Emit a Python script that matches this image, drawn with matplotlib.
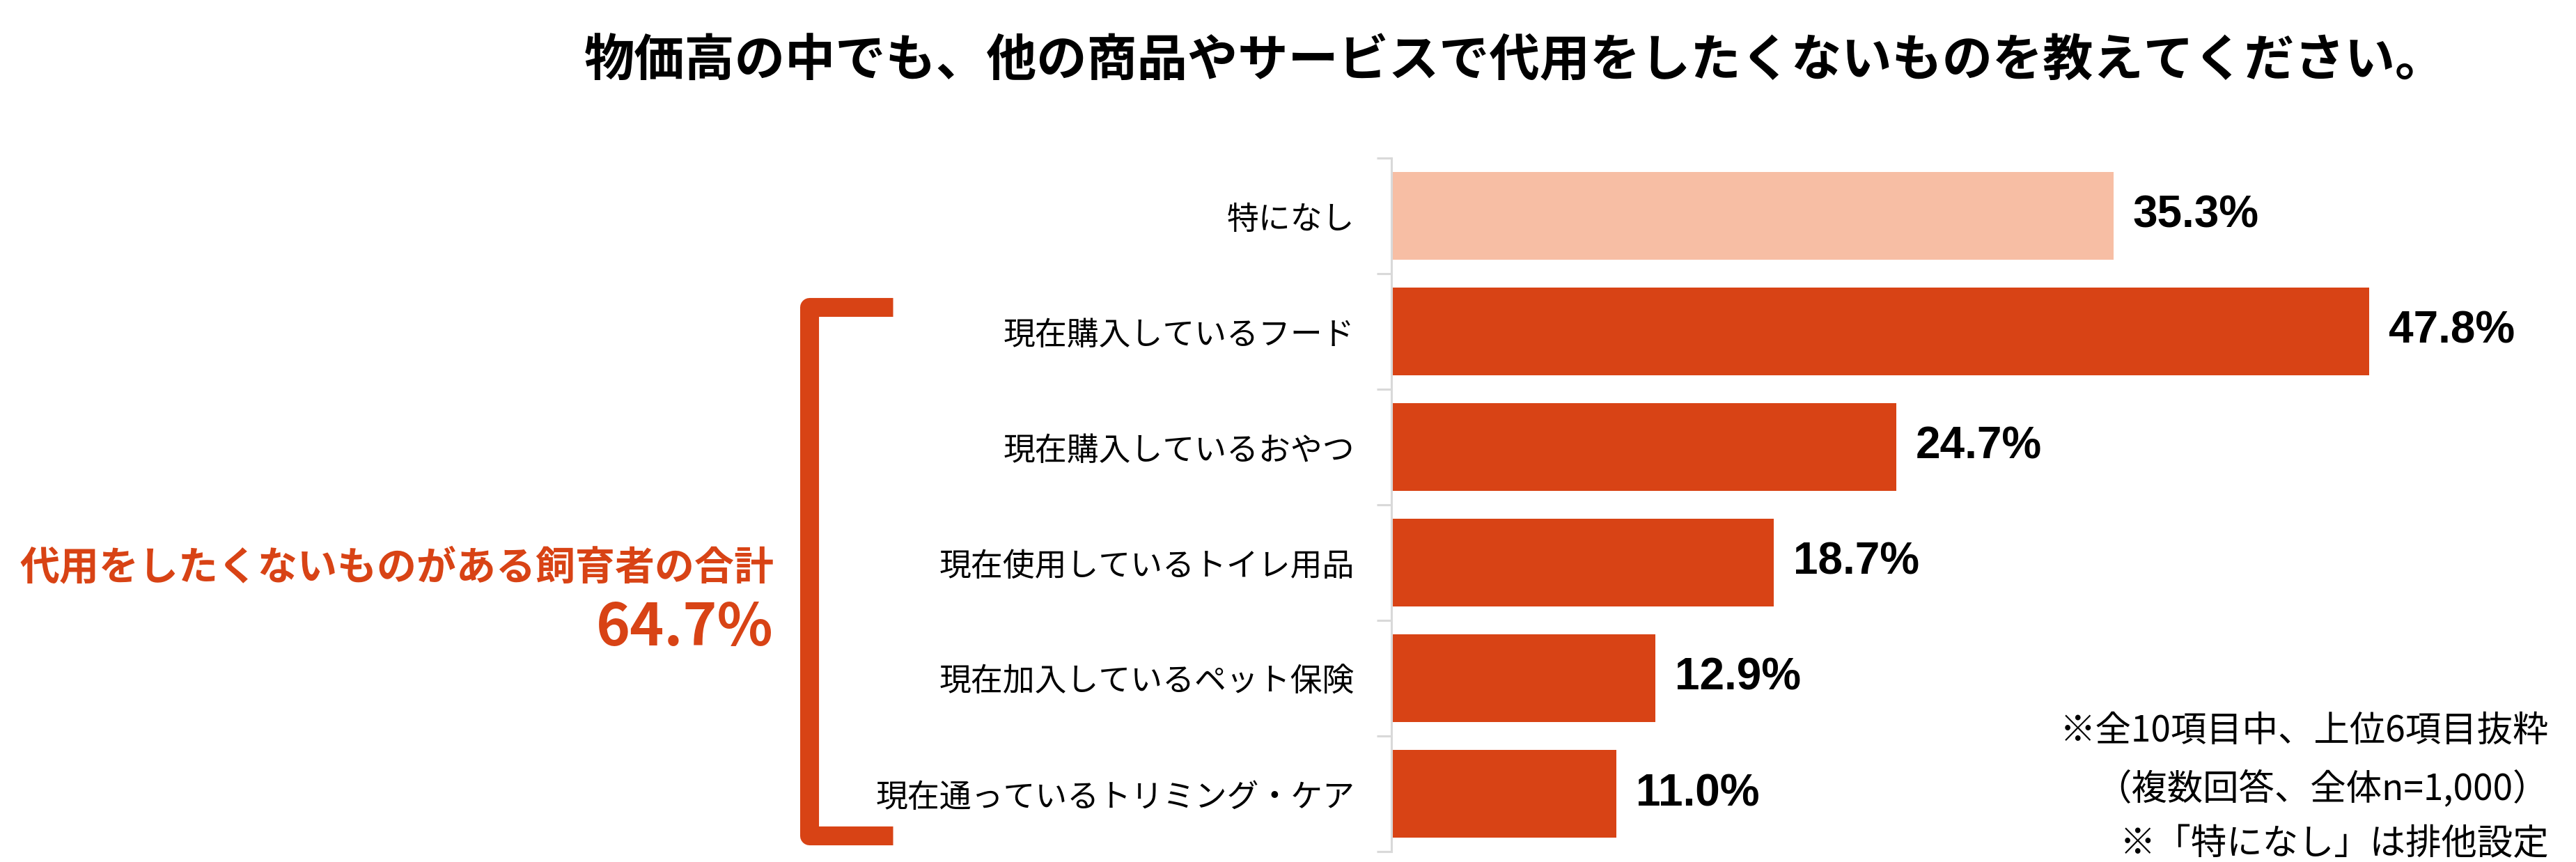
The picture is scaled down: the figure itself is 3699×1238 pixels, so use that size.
import matplotlib
matplotlib.use("Agg")
import matplotlib.pyplot as plt
from matplotlib.lines import Line2D

plt.rcParams['font.family'] = ['Noto Sans CJK JP', 'DejaVu Sans']

# ---- data ----
categories = ["特になし", "現在購入しているフード", "現在購入しているおやつ",
              "現在使用しているトイレ用品", "現在加入しているペット保険",
              "現在通っているトリミング・ケア"]
values = [35.3, 47.8, 24.7, 18.7, 12.9, 11.0]
value_labels = ["35.3%", "47.8%", "24.7%", "18.7%", "12.9%", "11.0%"]
title = "物価高の中でも、他の商品やサービスで代用をしたくないものを教えてください。"
total_label = "代用をしたくないものがある飼育者の合計"
total_value = "64.7%"
notes = ["※全10項目中、上位6項目抜粋", "（複数回答、全体n=1,000）", "※「特になし」は排他設定"]

W, H = 3699, 1238
DPI = 100
fig = plt.figure(figsize=(W / DPI, H / DPI), dpi=DPI)

def fx(px):
    return px / W

def fy(py):
    return 1 - py / H

LIGHT = "#F7BEA4"
DARK = "#D84315"
AX_L, AX_T, AX_B = 1998, 227, 1223
ax = fig.add_axes([fx(AX_L), fy(AX_B), 1 - fx(AX_L), (AX_B - AX_T) / H])

n = len(categories)
ypos = list(range(n))
colors = [LIGHT] + [DARK] * (n - 1)
ax.barh(ypos, values, height=0.76, color=colors, zorder=2)
ax.set_xlim(0, (W - AX_L) / 29.37)
ax.set_ylim(n - 0.5, -0.5)

for y, v, lab in zip(ypos, values, value_labels):
    ax.annotate(lab, xy=(v, y), xytext=(20, 0), textcoords="offset points",
                ha="left", va="center", fontsize=46, fontweight="bold",
                family=["Liberation Sans", "DejaVu Sans"], color="black")

# axis styling
for s in ["top", "right", "bottom"]:
    ax.spines[s].set_visible(False)
ax.spines["left"].set_color("#D9D9D9")
ax.spines["left"].set_linewidth(2.2)
ax.set_xticks([])
ax.set_yticks([i - 0.5 for i in range(n + 1)])
ax.set_yticklabels([])
ax.tick_params(axis="y", which="major", length=15, width=2.2, color="#D9D9D9", direction="out")
ax.set_yticks(ypos, minor=True)
ax.set_yticklabels(categories, minor=True, fontsize=33, color="black")
ax.tick_params(axis="y", which="minor", length=0, pad=38)

# title
fig.text(fx(2175), fy(88), title, ha="center", va="center", fontsize=52,
         fontweight="bold", color="black")

# left annotation
fig.text(fx(1111), fy(815), total_label, ha="right", va="center", fontsize=41,
         fontweight="bold", color=DARK)
fig.text(fx(1111), fy(902), total_value, ha="right", va="center", fontsize=60,
         fontweight="bold", color=DARK)

# bracket
bx = [fx(1282), fx(1162), fx(1162), fx(1282)]
by = [fy(441), fy(441), fy(1200), fy(1200)]
fig.add_artist(Line2D(bx, by, transform=fig.transFigure, color=DARK, linewidth=19.5,
                      solid_joinstyle="round", solid_capstyle="butt"))

# notes
for txt, yy in zip(notes, [1050, 1133, 1212]):
    fig.text(fx(3660), fy(yy), txt, ha="right", va="center", fontsize=37, color="black")

fig.savefig("out.png", dpi=DPI)
